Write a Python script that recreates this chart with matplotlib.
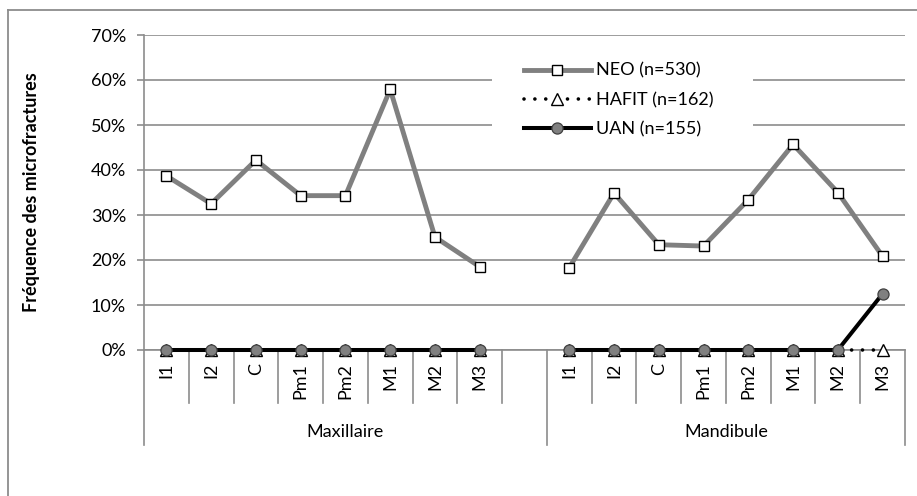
import matplotlib.pyplot as plt
from matplotlib.lines import Line2D
from matplotlib.patches import Rectangle
import matplotlib.transforms as mtransforms
from matplotlib.ticker import FuncFormatter, MultipleLocator

plt.rcParams['font.family'] = ['Lato', 'DejaVu Sans']

teeth = ['I1', 'I2', 'C', 'Pm1', 'Pm2', 'M1', 'M2', 'M3']
groups = ['Maxillaire', 'Mandibule']

# values in %, Maxillaire then Mandibule
neo_maxi = [38.7, 32.5, 42.2, 34.3, 34.3, 57.9, 25.1, 18.5]
neo_mand = [18.3, 34.9, 23.4, 23.1, 33.4, 45.7, 35.0, 20.8]
hafit_maxi = [0, 0, 0, 0, 0, 0, 0, 0]
hafit_mand = [0, 0, 0, 0, 0, 0, 0, 0]
uan_maxi = [0, 0, 0, 0, 0, 0, 0, 0]
uan_mand = [0, 0, 0, 0, 0, 0, 0, 12.5]

grid_col = '#8c8c8c'
FS = 13

n = len(teeth)
x_maxi = list(range(n))
x_mand = [i + n + 1 for i in range(n)]
n_cat = 2 * n + 1

fig = plt.figure(figsize=(9.17, 4.96), dpi=100)
ax = fig.add_axes([144 / 917, 1 - 350 / 496, 761 / 917, 315 / 496])
W, H = 761, 315  # axes size in px

# outer chart frame (left and top)
fig.add_artist(Line2D([8 / 917, 8 / 917], [0, 1 - 10 / 496], color=grid_col, lw=1.3))
fig.add_artist(Line2D([8 / 917, 1], [1 - 10 / 496, 1 - 10 / 496], color=grid_col, lw=1.3))

styles = {
    'NEO (n=530)': dict(color='#808080', lw=3.5, marker='s', ms=7.5, mfc='white', mec='black', mew=1.0, zorder=3),
    'HAFIT (n=162)': dict(color='black', lw=2.6, ls=(0, (0.01, 3.0)), dash_capstyle='round', marker='^',
                          ms=8, mfc='white', mec='black', mew=1.0, zorder=4),
    'UAN (n=155)': dict(color='black', lw=2.9, marker='o', ms=8, mfc='#808080', mec='#404040', mew=0.9, zorder=5),
}
series = {
    'NEO (n=530)': (neo_maxi, neo_mand),
    'HAFIT (n=162)': (hafit_maxi, hafit_mand),
    'UAN (n=155)': (uan_maxi, uan_mand),
}
for name, (vmaxi, vmand) in series.items():
    st = styles[name]
    ax.plot(x_maxi, vmaxi, label=name, clip_on=False, **st)
    ax.plot(x_mand, vmand, clip_on=False, **st)

ax.set_xlim(-0.5, n_cat - 0.5)
ax.set_ylim(0, 70)
ax.yaxis.set_major_locator(MultipleLocator(10))
ax.yaxis.set_major_formatter(FuncFormatter(lambda v, p: f'{v:.0f}%'))
ax.grid(axis='y', color=grid_col, lw=1.2, zorder=0)
ax.set_axisbelow(True)
for s in ['top', 'right']:
    ax.spines[s].set_visible(False)
ax.spines['left'].set_color(grid_col)
ax.spines['left'].set_linewidth(1.2)
ax.spines['bottom'].set_color(grid_col)
ax.spines['bottom'].set_linewidth(1.2)
ax.tick_params(axis='y', length=5, width=1.2, color=grid_col, labelsize=FS, pad=8)
ax.set_xticks([])

ax.set_ylabel('Fréquence des microfractures', fontsize=FS, fontweight='bold')
ax.yaxis.set_label_coords((40 - 144) / W, 0.5)

# multi-level category axis
trans = mtransforms.blended_transform_factory(ax.transData, ax.transAxes)
for i, t in enumerate(teeth):
    for xc in (x_maxi[i], x_mand[i]):
        ax.text(xc, -13 / H, t, rotation=90, ha='center', va='top', fontsize=FS, transform=trans)
for b in range(n_cat + 1):
    xb = b - 0.5
    long_line = xb in (-0.5, n + 0.5, n_cat - 0.5)
    y_end = -95 / H if long_line else -53 / H
    ax.plot([xb, xb], [0, y_end], color=grid_col, lw=1.2, transform=trans, clip_on=False)
ax.text((-0.5 + n + 0.5) / 2, -82 / H, groups[0], ha='center', va='center', fontsize=FS, transform=trans)
ax.text((n + 0.5 + n_cat - 0.5) / 2, -82 / H, groups[1], ha='center', va='center', fontsize=FS, transform=trans)

# legend box (white, hides the gridlines behind it)
ax.add_patch(Rectangle(((492 - 144) / W, (350 - 152) / H), (753 - 492) / W, (152 - 47) / H,
                       transform=ax.transAxes, facecolor='white', edgecolor='none', zorder=1))
leg = ax.legend(loc='center left', bbox_to_anchor=((524 - 144) / W, (350 - 100) / H),
                frameon=False, fontsize=FS, handlelength=3.7, handletextpad=0.3,
                labelspacing=0.72, borderpad=0, borderaxespad=0)
leg.set_zorder(6)

fig.savefig('out.png', dpi=100)
